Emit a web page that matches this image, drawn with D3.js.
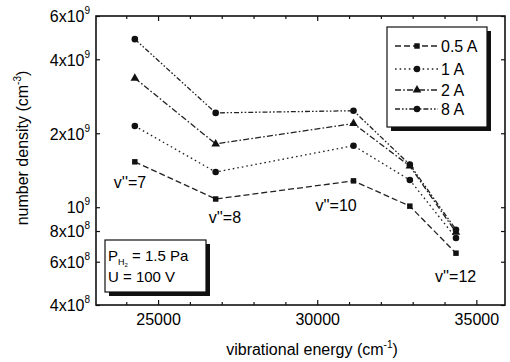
<!DOCTYPE html>
<html>
<head>
<meta charset="utf-8">
<script src="https://cdn.jsdelivr.net/npm/d3@7"></script>
<style>
  html, body { margin: 0; padding: 0; background: #fff; }
  svg { display: block; }
  text { font-family: "Liberation Sans", Arial, Helvetica, sans-serif; fill: #000; }
</style>
</head>
<body>
<svg id="chart" width="510" height="362"></svg>
<script>
// Vibrational level energies (cm^-1) and populations (cm^-3) per discharge current
const energies = [24270, 26810, 31140, 32910, 34360];
const seriesNames = ["0.5 A", "1 A", "2 A", "8 A"];
const density05A = [1.53e9, 1.08e9, 1.28e9, 1.01e9, 6.5e8];
const density1A  = [2.14e9, 1.39e9, 1.78e9, 1.29e9, 7.5e8];
const density2A  = [3.35e9, 1.81e9, 2.19e9, 1.47e9, 7.9e8];
const density8A  = [4.83e9, 2.42e9, 2.47e9, 1.49e9, 8.1e8];
const levelLabels = ["v''=7", "v''=8", "v''=10", "v''=12"];
const levelLabelEnergy = [24270, 26810, 31140, 34360];
const yTickValues = [4e8, 6e8, 8e8, 1e9, 2e9, 4e9, 6e9];
const yTickMantissa = ["4x10", "6x10", "8x10", "10", "2x10", "4x10", "6x10"];
const yTickExponent = ["8", "8", "8", "9", "9", "9", "9"];
const xMajorTicks = [25000, 30000, 35000];
const xMinorTicks = [24000, 26000, 27000, 28000, 29000, 31000, 32000, 33000, 34000];

const svg = d3.select("#chart");
const L = 96, R = 505, T = 16, B = 305;

const x = d3.scaleLinear().domain([23050, 35900]).range([L, R]);
const y = d3.scaleLog().domain([4e8, 6e9]).range([B, T]);

const series = [
  { name: seriesNames[0], values: density05A, dash: "6,3", marker: "square" },
  { name: seriesNames[1], values: density1A, dash: "1.6,3", marker: "circle" },
  { name: seriesNames[2], values: density2A, dash: "6,2.2,1.6,2.2", marker: "triangle" },
  { name: seriesNames[3], values: density8A, dash: "5,2,1.6,2,1.6,2", marker: "circle" }
];

const symbolFor = m => m === "square" ? d3.symbolSquare : m === "triangle" ? d3.symbolTriangle : d3.symbolCircle;
const sizeFor = m => m === "square" ? 30 : m === "triangle" ? 32 : 34;

// Axes: ticks point inward on all four sides
const gLeft = svg.append("g").attr("transform", `translate(${L},0)`)
  .call(d3.axisLeft(y).tickValues(yTickValues).tickSize(-4).tickPadding(7).tickFormat(() => ""));
gLeft.selectAll(".tick text").each(function(d, i) {
  const t = d3.select(this).attr("font-size", 16).attr("dy", "0.36em").attr("x", -6);
  t.append("tspan").text(yTickMantissa[i]);
  t.append("tspan").attr("font-size", 10).attr("dy", "-0.8em").text(yTickExponent[i]);
});
svg.append("g").attr("transform", `translate(${R},0)`)
  .call(d3.axisRight(y).tickValues(yTickValues).tickSize(-4).tickFormat(""));

const gBottom = svg.append("g").attr("transform", `translate(0,${B})`)
  .call(d3.axisBottom(x).tickValues(xMajorTicks).tickSize(-5).tickPadding(9).tickFormat(d3.format("d")));
gBottom.selectAll(".tick text").attr("font-size", 16).attr("dy", "0.71em");
svg.append("g").attr("transform", `translate(0,${B})`)
  .call(d3.axisBottom(x).tickValues(xMinorTicks).tickSize(-3).tickFormat(""));
svg.append("g").attr("transform", `translate(0,${T})`)
  .call(d3.axisTop(x).tickValues(xMajorTicks).tickSize(-5).tickFormat(""));
svg.append("g").attr("transform", `translate(0,${T})`)
  .call(d3.axisTop(x).tickValues(xMinorTicks).tickSize(-3).tickFormat(""));

svg.selectAll(".domain").remove();
svg.selectAll(".tick line").attr("stroke", "#111").attr("stroke-width", 1.2);

// Plot frame
svg.append("rect").attr("x", L).attr("y", T).attr("width", R - L).attr("height", B - T)
  .attr("fill", "none").attr("stroke", "#111").attr("stroke-width", 1.6);

// Series lines and markers
const line = d3.line().x((d, i) => x(energies[i])).y(d => y(d));
series.forEach(s => {
  svg.append("path").datum(s.values).attr("d", line)
    .attr("fill", "none").attr("stroke", "#222").attr("stroke-width", 1.3)
    .attr("stroke-dasharray", s.dash);
  svg.append("g").selectAll("path").data(s.values).join("path")
    .attr("transform", (d, i) => `translate(${x(energies[i])},${y(d)})`)
    .attr("d", d3.symbol(symbolFor(s.marker), sizeFor(s.marker)))
    .attr("fill", "#111");
});

// Vibrational level labels
const labelOffsets = [[-21, 188], [-7, 223], [-38, 211], [-21, 282]];
levelLabels.forEach((t, i) => {
  svg.append("text").attr("x", x(levelLabelEnergy[i]) + labelOffsets[i][0]).attr("y", labelOffsets[i][1])
    .attr("font-size", 16).text(t);
});

// Legend with drop shadow
const lg = svg.append("g");
lg.append("rect").attr("x", 391).attr("y", 31).attr("width", 100).attr("height", 100).attr("fill", "#111");
lg.append("rect").attr("x", 387).attr("y", 27).attr("width", 100).attr("height", 100)
  .attr("fill", "#fff").attr("stroke", "#111").attr("stroke-width", 1.2);
const legendRows = [46, 69, 90, 109];
series.forEach((s, i) => {
  const yy = legendRows[i];
  lg.append("line").attr("x1", 395).attr("x2", 438).attr("y1", yy).attr("y2", yy)
    .attr("stroke", "#222").attr("stroke-width", 1.3).attr("stroke-dasharray", s.dash);
  lg.append("path").attr("transform", `translate(417,${yy})`)
    .attr("d", d3.symbol(symbolFor(s.marker), sizeFor(s.marker))).attr("fill", "#111");
  lg.append("text").attr("x", 441).attr("y", yy + 5.5).attr("font-size", 16).text(s.name);
});

// Conditions box with drop shadow
const cb = svg.append("g");
cb.append("rect").attr("x", 109).attr("y", 244).attr("width", 101).attr("height", 52).attr("fill", "#111");
cb.append("rect").attr("x", 105).attr("y", 240).attr("width", 101).attr("height", 52)
  .attr("fill", "#fff").attr("stroke", "#111").attr("stroke-width", 1.2);
const c1 = cb.append("text").attr("x", 108).attr("y", 261).attr("font-size", 15);
c1.append("tspan").text("P");
c1.append("tspan").attr("font-size", 9).attr("dy", 4).text("H");
c1.append("tspan").attr("font-size", 6).attr("dy", 2).text("2");
c1.append("tspan").attr("dy", -6).text(" = 1.5 Pa");
cb.append("text").attr("x", 108).attr("y", 282).attr("font-size", 15).text("U = 100 V");

// Axis titles
const xt = svg.append("text").attr("x", 312).attr("y", 355).attr("text-anchor", "middle").attr("font-size", 16);
xt.append("tspan").text("vibrational energy (cm");
xt.append("tspan").attr("font-size", 10).attr("dy", -7).text("-1");
xt.append("tspan").attr("dy", 7).text(")");

const yt = svg.append("text").attr("transform", "translate(28,148) rotate(-90)")
  .attr("text-anchor", "middle").attr("font-size", 16);
yt.append("tspan").text("number density (cm");
yt.append("tspan").attr("font-size", 10).attr("dy", -7).text("-3");
yt.append("tspan").attr("dy", 7).text(")");
</script>
</body>
</html>
